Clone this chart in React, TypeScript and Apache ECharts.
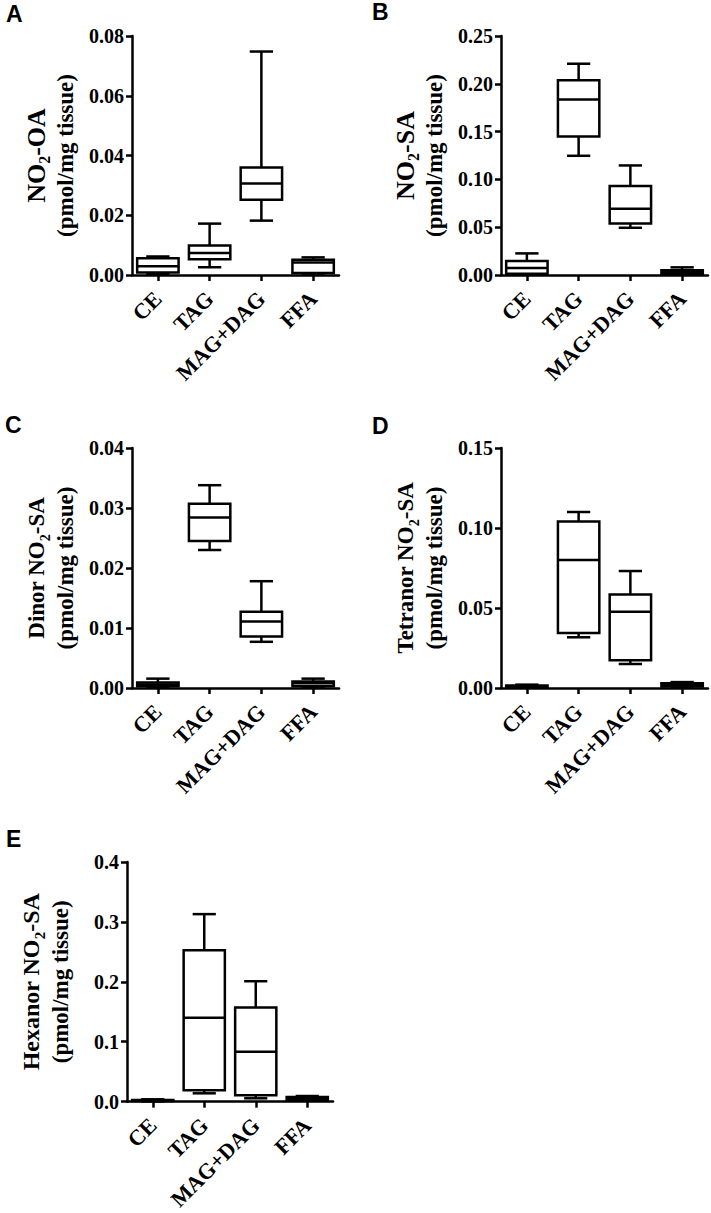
import React, { useEffect, useRef } from "react";
import * as echarts from "echarts";

const categories = ["CE", "TAG", "MAG+DAG", "FFA"];

// each row: [min, Q1, median, Q3, max]
const panelA = [
  [0.0003, 0.0008, 0.0029, 0.0056, 0.0062],
  [0.0026, 0.0053, 0.0074, 0.0099, 0.0172],
  [0.0182, 0.0252, 0.0306, 0.036, 0.0748],
  [0.0005, 0.0007, 0.0042, 0.0051, 0.0059],
];
const panelB = [
  [0.001, 0.0014, 0.0073, 0.0146, 0.0226],
  [0.1247, 0.1448, 0.1835, 0.2037, 0.221],
  [0.0494, 0.054, 0.0693, 0.093, 0.1146],
  [0.001, 0.0014, 0.0028, 0.0049, 0.008],
];
const panelC = [
  [0.0001, 0.0003, 0.0006, 0.0009, 0.00156],
  [0.023, 0.0245, 0.0284, 0.0307, 0.0338],
  [0.0077, 0.0086, 0.0111, 0.0127, 0.0178],
  [0.0002, 0.0003, 0.0008, 0.0011, 0.00156],
];
const panelD = [
  [0.0003, 0.0006, 0.001, 0.0015, 0.0021],
  [0.0317, 0.0344, 0.08, 0.104, 0.11],
  [0.015, 0.0173, 0.0477, 0.0585, 0.0731],
  [0.0008, 0.001, 0.0021, 0.0029, 0.0037],
];
const panelE = [
  [0.0005, 0.001, 0.0017, 0.0028, 0.0039],
  [0.0139, 0.0189, 0.14, 0.2528, 0.313],
  [0.0056, 0.0106, 0.0833, 0.157, 0.201],
  [0.002, 0.0033, 0.0056, 0.0078, 0.0094],
];

const yMax = [0.08, 0.25, 0.04, 0.15, 0.4];
const yInterval = [0.02, 0.05, 0.01, 0.05, 0.1];
const yDecimals = [2, 2, 2, 2, 1];
const yTitlePrefix = ["NO", "NO", "Dinor NO", "Tetranor NO", "Hexanor NO"];
const yTitleSuffix = ["-OA", "-SA", "-SA", "-SA", "-SA"];
const yTitleBottom = "(pmol/mg tissue)";
const panelLetters = ["A", "B", "C", "D", "E"];
const panels = [panelA, panelB, panelC, panelD, panelE];

const grids = [
  { left: 132, top: 36, width: 207, height: 239 },
  { left: 501, top: 36, width: 207, height: 239 },
  { left: 132, top: 448, width: 207, height: 240 },
  { left: 501, top: 448, width: 207, height: 240 },
  { left: 127, top: 862, width: 206, height: 240 },
];
const titleSize = [26, 26, 23, 23, 24];
const letterPos = [
  [6, 2],
  [372, 0],
  [5, 413],
  [372, 414],
  [6, 827],
];

const serif = '"Liberation Serif", "Times New Roman", serif';
const LW = 2.5;

function renderItem(params: any, api: any) {
  const xi = api.value(0);
  const pMin = api.coord([xi, api.value(1)]);
  const pQ1 = api.coord([xi, api.value(2)]);
  const pMed = api.coord([xi, api.value(3)]);
  const pQ3 = api.coord([xi, api.value(4)]);
  const pMax = api.coord([xi, api.value(5)]);
  const band = api.size([1, 0])[0];
  const bw = band * 0.8;
  const cw = band * 0.45;
  const cx = pMed[0];
  const ls = { stroke: "#000", lineWidth: LW };
  return {
    type: "group",
    children: [
      { type: "line", shape: { x1: cx, y1: pQ3[1], x2: cx, y2: pMax[1] }, style: ls },
      { type: "line", shape: { x1: cx, y1: pQ1[1], x2: cx, y2: pMin[1] }, style: ls },
      { type: "line", shape: { x1: cx - cw / 2, y1: pMax[1], x2: cx + cw / 2, y2: pMax[1] }, style: ls },
      { type: "line", shape: { x1: cx - cw / 2, y1: pMin[1], x2: cx + cw / 2, y2: pMin[1] }, style: ls },
      {
        type: "rect",
        shape: { x: cx - bw / 2, y: pQ3[1], width: bw, height: pQ1[1] - pQ3[1] },
        style: { fill: "#fff", stroke: "#000", lineWidth: LW },
      },
      { type: "line", shape: { x1: cx - bw / 2, y1: pMed[1], x2: cx + bw / 2, y2: pMed[1] }, style: ls },
    ],
  };
}

export default function App() {
  const ref = useRef<HTMLDivElement>(null);
  useEffect(() => {
    if (!ref.current) return;
    const chart = echarts.init(ref.current, undefined, { renderer: "svg" });
    const option: any = {
      animation: false,
      backgroundColor: "#fff",
      grid: grids.map((g) => ({ ...g, containLabel: false })),
      xAxis: panels.map((_, i) => ({
        type: "category",
        gridIndex: i,
        data: categories,
        boundaryGap: true,
        axisLine: { show: true, lineStyle: { color: "#000", width: LW } },
        axisTick: { show: true, alignWithLabel: true, length: 6, lineStyle: { color: "#000", width: LW } },
        axisLabel: {
          interval: 0,
          rotate: 45,
          margin: 20,
          color: "#000",
          fontFamily: serif,
          fontWeight: "bold",
          fontSize: 22,
        },
        splitLine: { show: false },
      })),
      yAxis: panels.map((_, i) => ({
        type: "value",
        gridIndex: i,
        min: 0,
        max: yMax[i],
        interval: yInterval[i],
        axisLine: { show: true, lineStyle: { color: "#000", width: LW } },
        axisTick: { show: true, length: 6, lineStyle: { color: "#000", width: LW } },
        axisLabel: {
          margin: 8,
          color: "#000",
          fontFamily: serif,
          fontWeight: "bold",
          fontSize: 20,
          formatter: (v: number) => v.toFixed(yDecimals[i]),
        },
        splitLine: { show: false },
        name:
          "{a|" + yTitlePrefix[i] + "}{s|2}{a|" + yTitleSuffix[i] + "}\n{b|" + yTitleBottom + "}",
        nameLocation: "middle",
        nameRotate: 90,
        nameGap: 53,
        nameTextStyle: {
          color: "#000",
          fontFamily: serif,
          fontWeight: "bold",
          fontSize: 23,
          rich: {
            a: { fontFamily: serif, fontWeight: "bold", fontSize: titleSize[i], lineHeight: 32, color: "#000" },
            s: {
              fontFamily: serif,
              fontWeight: "bold",
              fontSize: Math.round(titleSize[i] * 0.62),
              lineHeight: 16,
              verticalAlign: "bottom",
              color: "#000",
            },
            b: { fontFamily: serif, fontWeight: "bold", fontSize: 23, lineHeight: 27, color: "#000" },
          },
        },
      })),
      series: panels.map((p, i) => ({
        type: "custom",
        xAxisIndex: i,
        yAxisIndex: i,
        renderItem,
        encode: { x: 0, y: [1, 2, 3, 4, 5] },
        data: p.map((row, k) => [k, ...row]),
        clip: false,
      })),
      graphic: panelLetters.map((L, i) => ({
        type: "text",
        left: letterPos[i][0],
        top: letterPos[i][1],
        style: {
          text: L,
          fill: "#000",
          font: 'bold 23px "Liberation Sans", Arial, sans-serif',
        },
      })),
    };
    chart.setOption(option);
    return () => chart.dispose();
  }, []);
  return (
    <div
      ref={ref}
      style={{ position: "absolute", left: 0, top: 0, width: 711, height: 1213, background: "#fff" }}
    />
  );
}
